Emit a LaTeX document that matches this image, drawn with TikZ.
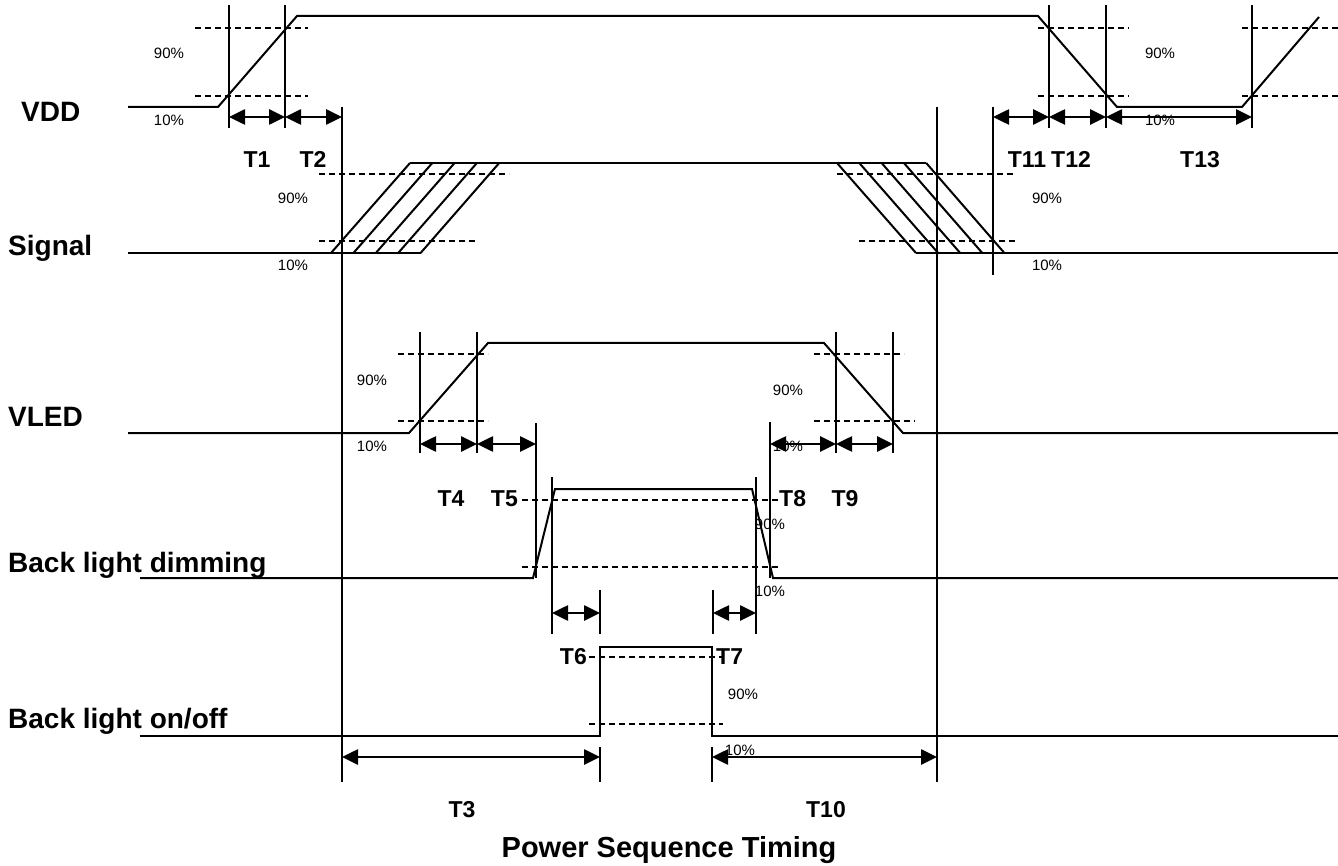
\documentclass[tikz,border=0pt]{standalone}
\usepackage{fontspec}
\setmainfont{Liberation Sans}
\usetikzlibrary{arrows.meta}
\begin{document}
\begin{tikzpicture}[x=1pt,y=-1pt,
  wave/.style={line width=2pt, line join=miter},
  vl/.style={line width=1.8pt},
  dsh/.style={line width=1.5pt, dash pattern=on 6pt off 4pt},
  dim/.style={line width=2.6pt, {Triangle[length=16pt,width=15pt]}-{Triangle[length=16pt,width=15pt]}},
  lab/.style={font=\fontsize{28}{31}\selectfont\bfseries, anchor=base west, inner sep=0pt},
  tl/.style={font=\fontsize{23}{26}\selectfont\bfseries, anchor=base, inner sep=0pt},
  ttl/.style={font=\fontsize{29}{32}\selectfont\bfseries, anchor=base, inner sep=0pt},
  pct/.style={font=\fontsize{15}{17}\selectfont, inner sep=0pt}]
\useasboundingbox (0,0) rectangle (1338,866);

% ---------- signal names ----------
\node[lab] (nVDD) at (21,122) {VDD};
\node[lab] (nSig) at (8,256) {Signal};
\node[lab] (nVLED) at (8,426) {VLED};
\node[lab] (nDim) at (8,572) {Back light dimming};
\node[lab] (nOnOff) at (8,728) {Back light on/off};

% ---------- VDD ----------
\draw[wave] (128,107) -- (218,107) -- (297,16) -- (1038,16) -- (1117,107) -- (1242,107) -- (1319,17);
\foreach \y in {28,96} {
  \draw[dsh] (195,\y) -- (308,\y);
  \draw[dsh] (1038,\y) -- (1129,\y);
  \draw[dsh] (1242,\y) -- (1338,\y);
}
\foreach \x in {229,285,1049,1106,1252} \draw[vl] (\x,5) -- (\x,128);
\draw[vl] (993,107) -- (993,275);
\draw[vl] (342,107) -- (342,782);
\draw[vl] (937,107) -- (937,782);
\draw[dim] (229,117) -- (285,117);
\draw[dim] (285,117) -- (342,117);
\draw[dim] (993,117) -- (1049,117);
\draw[dim] (1049,117) -- (1106,117);
\draw[dim] (1106,117) -- (1252,117);
\node[pct] (p1) at (169,53) {90\%};
\node[pct] (p2) at (169,120) {10\%};
\node[pct] (p3) at (1160,53) {90\%};
\node[pct] (p4) at (1160,120) {10\%};
\node[tl] (t1) at (257,168) {T1};
\node[tl] (t2) at (313,168) {T2};
\node[tl] (t11) at (1027,168) {T11};
\node[tl] (t12) at (1071,168) {T12};
\node[tl] (t13) at (1200,168) {T13};

% ---------- Signal ----------
\draw[wave] (128,253) -- (421,253);
\draw[wave] (410,163) -- (926,163);
\draw[wave] (916,253) -- (1338,253);
\foreach \k in {0,...,4} {
  \draw[wave] ({331+22.4*\k},253) -- ({410+22.3*\k},163);
  \draw[wave] ({837+22.3*\k},163) -- ({916+22.1*\k},253);
}
\draw[dsh] (319,174) -- (509,174);
\draw[dsh] (319,241) -- (476,241);
\draw[dsh] (837,174) -- (1013,174);
\draw[dsh] (859,241) -- (1017,241);
\node[pct] (p5) at (293,198) {90\%};
\node[pct] (p6) at (293,265) {10\%};
\node[pct] (p7) at (1047,198) {90\%};
\node[pct] (p8) at (1047,265) {10\%};

% ---------- VLED ----------
\draw[wave] (128,433) -- (409,433) -- (488,343) -- (824,343) -- (903,433) -- (1338,433);
\draw[dsh] (398,354) -- (488,354);
\draw[dsh] (398,421) -- (488,421);
\draw[dsh] (814,354) -- (904,354);
\draw[dsh] (814,421) -- (915,421);
\foreach \x in {420,477,836,893} \draw[vl] (\x,332) -- (\x,453);
\draw[vl] (536,423) -- (536,578);
\draw[vl] (770,422) -- (770,578);
\draw[dim] (420,444) -- (477,444);
\draw[dim] (477,444) -- (536,444);
\draw[dim] (770,444) -- (836,444);
\draw[dim] (836,444) -- (893,444);
\node[pct] (p9) at (372,380) {90\%};
\node[pct] (p10) at (372,446) {10\%};
\node[pct] (p11) at (788,390) {90\%};
\node[pct] (p12) at (788,446) {10\%};
\node[tl] (t4) at (451,506) {T4};
\node[tl, anchor=base east] (t5) at (518,506) {T5};
\node[tl, anchor=base west] (t8) at (779,506) {T8};
\node[tl] (t9) at (845,506) {T9};

% ---------- Back light dimming ----------
\draw[wave] (140,578) -- (533,578) -- (555,489) -- (752,489) -- (773,578) -- (1338,578);
\draw[dsh] (522,500) -- (780,500);
\draw[dsh] (522,567) -- (780,567);
\draw[vl] (552,477) -- (552,634);
\draw[vl] (756,477) -- (756,634);
\draw[vl] (600,590) -- (600,634);
\draw[vl] (713,590) -- (713,634);
\draw[dim] (552,613) -- (600,613);
\draw[dim] (713,613) -- (756,613);
\node[pct] (p13) at (770,524) {90\%};
\node[pct] (p14) at (770,591) {10\%};

% ---------- Back light on/off ----------
\draw[wave] (140,736) -- (600,736) -- (600,647) -- (712,647) -- (712,736) -- (1338,736);
\draw[dsh] (589,657) -- (723,657);
\draw[dsh] (589,724) -- (723,724);
\draw[vl] (600,747) -- (600,782);
\draw[vl] (712,747) -- (712,782);
\draw[dim] (342,757) -- (600,757);
\draw[dim] (712,757) -- (937,757);
\node[tl, anchor=base east] (t6) at (587,664) {T6};
\node[tl, anchor=base west] (t7) at (716,664) {T7};
\node[pct] (p15) at (743,694) {90\%};
\node[pct] (p16) at (740,750) {10\%};
\node[tl] (t3) at (462,817) {T3};
\node[tl] (t10) at (826,817) {T10};

% ---------- title ----------
\node[ttl] (title) at (669,857) {Power Sequence Timing};
\end{tikzpicture}
\end{document}
